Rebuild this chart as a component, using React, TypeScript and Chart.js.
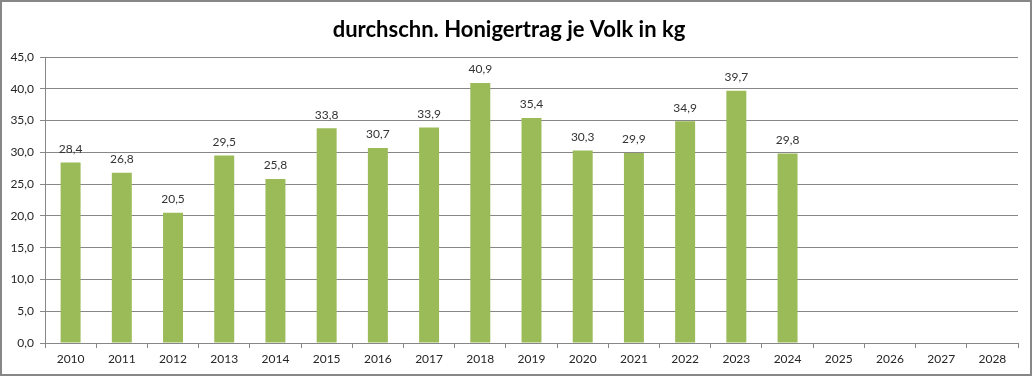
import React, { useEffect, useRef } from "react";
import { Chart, registerables } from "chart.js";

Chart.register(...registerables);

const years = ["2010","2011","2012","2013","2014","2015","2016","2017","2018","2019","2020","2021","2022","2023","2024","2025","2026","2027","2028"];
const honey: (number | null)[] = [28.4, 26.8, 20.5, 29.5, 25.8, 33.8, 30.7, 33.9, 40.9, 35.4, 30.3, 29.9, 34.9, 39.7, 29.8, null, null, null, null];
const titleText = "durchschn. Honigertrag je Volk in kg";

const fmt = (v: number) => v.toFixed(1).replace(".", ",");

const FONT = "Lato, 'Liberation Sans', sans-serif";

const borderPlugin = {
  id: "frame",
  beforeDraw(chart: any) {
    const ctx = chart.ctx;
    ctx.save();
    ctx.fillStyle = "#ffffff";
    ctx.fillRect(0, 0, chart.width, chart.height);
    ctx.strokeStyle = "#878787";
    ctx.lineWidth = 2;
    ctx.strokeRect(1, 1, chart.width - 3, chart.height - 3);
    ctx.restore();
  },
};

const labelPlugin = {
  id: "valueLabels",
  afterDatasetsDraw(chart: any) {
    const ctx = chart.ctx;
    const meta = chart.getDatasetMeta(0);
    ctx.save();
    ctx.font = `12px ${FONT}`;
    ctx.fillStyle = "#333333";
    ctx.textAlign = "center";
    ctx.textBaseline = "middle";
    meta.data.forEach((bar: any, i: number) => {
      const v = honey[i];
      if (v == null) return;
      ctx.fillText(fmt(v), bar.x, bar.y - 13.5);
    });
    ctx.restore();
  },
};

export default function App() {
  const ref = useRef<HTMLCanvasElement>(null);
  useEffect(() => {
    document.body.style.margin = "0";
    const chart = new Chart(ref.current!, {
      type: "bar",
      data: {
        labels: years,
        datasets: [
          {
            data: honey as any,
            backgroundColor: "#9BBB59",
            borderWidth: 0,
            barPercentage: 0.39,
            categoryPercentage: 1,
          },
        ],
      },
      options: {
        responsive: false,
        animation: false,
        layout: { padding: { left: 0, right: 15, top: 0, bottom: 0 } },
        plugins: {
          legend: { display: false },
          tooltip: { enabled: false },
          title: {
            display: true,
            text: titleText,
            color: "#000000",
            font: { family: FONT, size: 22, weight: "bold" },
            padding: { top: 17, bottom: 13.6 },
          },
        },
        scales: {
          x: {
            grid: { display: true, drawOnChartArea: false, drawTicks: true, tickLength: 5, color: "#878787", offset: true },
            border: { color: "#878787" },
            ticks: { color: "#262626", font: { family: FONT, size: 12 }, padding: 4, maxRotation: 0, autoSkip: false },
            afterFit: (s: any) => { s.height = 34; },
          },
          y: {
            min: 0,
            max: 45,
            grid: { color: "#878787", tickLength: 5 },
            border: { color: "#878787" },
            ticks: { stepSize: 5, color: "#262626", font: { family: FONT, size: 12 }, padding: 6, callback: (v: any) => fmt(Number(v)) },
            afterFit: (s: any) => { s.width = 45; },
          },
        },
      },
      plugins: [borderPlugin, labelPlugin],
    });
    return () => chart.destroy();
  }, []);
  return <canvas ref={ref} width={1033} height={377} style={{ display: "block" }} />;
}
